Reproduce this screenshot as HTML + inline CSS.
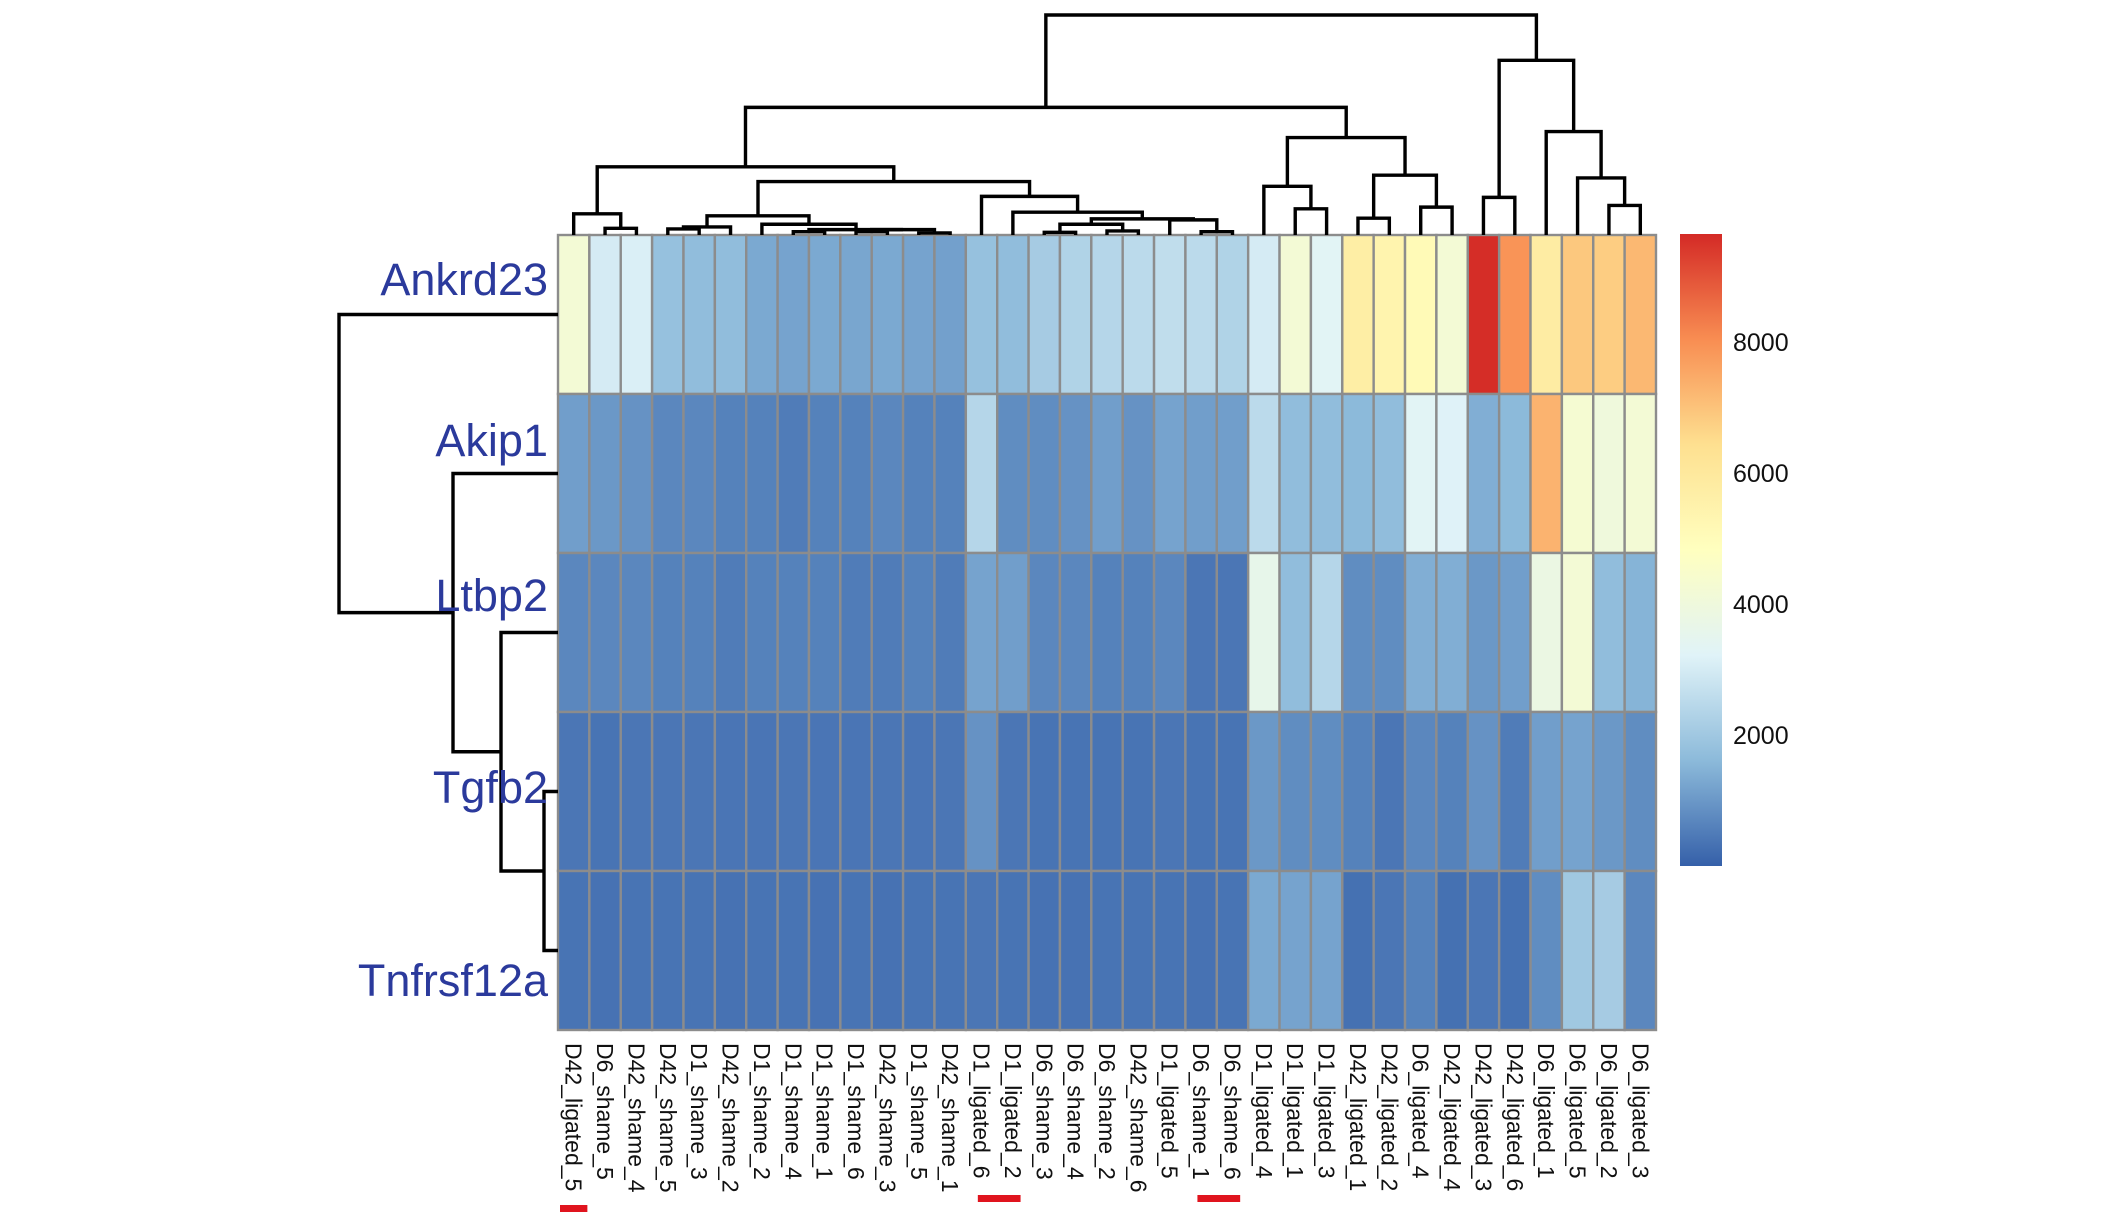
<!DOCTYPE html>
<html><head><meta charset="utf-8"><title>Heatmap</title>
<style>
html,body{margin:0;padding:0;background:#fff;}
svg{display:block;font-family:"Liberation Sans",Arial,sans-serif;}
</style></head>
<body>
<svg id="chart" width="2126" height="1220" viewBox="0 0 2126 1220" xmlns="http://www.w3.org/2000/svg"></svg>
<script>
const genes = ["Ankrd23","Akip1","Ltbp2","Tgfb2","Tnfrsf12a"];
const samples = ["D42_ligated_5","D6_shame_5","D42_shame_4","D42_shame_5","D1_shame_3","D42_shame_2","D1_shame_2","D1_shame_4","D1_shame_1","D1_shame_6","D42_shame_3","D1_shame_5","D42_shame_1","D1_ligated_6","D1_ligated_2","D6_shame_3","D6_shame_4","D6_shame_2","D42_shame_6","D1_ligated_5","D6_shame_1","D6_shame_6","D1_ligated_4","D1_ligated_1","D1_ligated_3","D42_ligated_1","D42_ligated_2","D6_ligated_4","D42_ligated_4","D42_ligated_3","D42_ligated_6","D6_ligated_1","D6_ligated_5","D6_ligated_2","D6_ligated_3"];
const ankrd23 = [4200,3000,3100,1800,1700,1700,1300,1200,1300,1250,1300,1200,1150,1800,1700,2100,2300,2400,2500,2600,2500,2300,3000,4200,3300,5700,5400,5100,4200,9600,7900,5800,6900,6800,7200];
const akip1 = [1100,1000,900,700,700,600,600,500,600,600,700,600,600,2400,800,800,900,1100,900,1200,1100,1100,2500,1700,1700,1600,1700,3300,3200,1400,1600,7300,4300,4000,4200];
const ltbp2 = [700,700,700,600,600,500,600,600,600,500,500,600,500,1200,1100,700,700,600,600,700,400,400,3600,1700,2400,800,800,1400,1400,1000,1100,3800,4200,1700,1500];
const tgfb2 = [400,350,400,400,400,380,380,400,380,380,400,380,400,900,400,350,350,350,350,400,350,350,1000,800,800,600,400,700,600,900,500,1100,1200,1000,800];
const tnfrsf12a = [350,330,350,350,350,330,350,350,330,350,330,350,350,400,350,330,330,350,350,350,330,350,1300,1200,1200,300,400,600,300,400,300,800,2000,2100,700];
const legendTicks = [2000,4000,6000,8000];
const valueMin = 0, valueMax = 9650;
const highlighted = [[0,0],[13,14],[20,21]];
// column dendrogram: [left, right, mergeHeight]
const colTree = [[[[0,[1,2,20],63],[[[[3,4,18],5,24],[6,[[7,8,10],[[9,10,10],[11,12,6],16],16],32],57],[13,[14,[[[15,16,8],[17,18,12],32],[19,[20,21,10],45],48],68],115],159],203],[[22,[23,24,78],145],[[25,26,50],[27,28,83],178],290],380],[[29,30,112],[31,[32,[33,34,88],170],308],520],655];
// row dendrogram: [top, bottom, mergeHeight]
const rowTree = [0,[1,[2,[3,4,14],57],105],219];

const NS="http://www.w3.org/2000/svg";
const svg=document.getElementById('chart');
function mk(tag,attrs,parent){const e=document.createElementNS(NS,tag);for(const k in attrs)e.setAttribute(k,attrs[k]);(parent||svg).appendChild(e);return e;}

const HX0=558,HX1=1656,HY0=235,HY1=1030;
const cw=(HX1-HX0)/samples.length, rh=(HY1-HY0)/genes.length;
const xCol=i=>HX0+cw*i, yRow=r=>HY0+rh*r;
const stops=["#3560A9","#8CBADA","#E0F3F8","#FFFFBF","#FEE090","#F88D52","#D42A26"];
function hex(c){return [1,3,5].map(i=>parseInt(c.substr(i,2),16));}
function color(v){let t=(v-valueMin)/(valueMax-valueMin);t=Math.max(0,Math.min(1,t))*(stops.length-1);const i=Math.min(stops.length-2,Math.floor(t)),f=t-i;const a=hex(stops[i]),b=hex(stops[i+1]);return "rgb("+a.map((x,k)=>Math.round(x+(b[k]-x)*f)).join(",")+")";}

const matrix=[ankrd23,akip1,ltbp2,tgfb2,tnfrsf12a];
const gHeat=mk('g',{});


matrix.forEach((row,r)=>row.forEach((v,c)=>{
  const rc=mk('rect',{x:xCol(c),y:yRow(r),width:cw,height:rh,fill:color(v),stroke:'#8c8c8c','stroke-width':2.4},gHeat);
  
  
}));

// column dendrogram
const gCD=mk('g',{stroke:'#000','stroke-width':3.4,fill:'none'});


const colH=h=>HY0-h*(HY0-15)/655;
function drawCol(n){
  if(typeof n==='number')return {x:xCol(n)+cw/2,y:HY0};
  const a=drawCol(n[0]),b=drawCol(n[1]),y=colH(n[2]);
  mk('path',{d:`M${a.x},${a.y}V${y}H${b.x}V${b.y}`},gCD);
  return {x:(a.x+b.x)/2,y:y};
}
drawCol(colTree);

// row dendrogram
const gRD=mk('g',{stroke:'#000','stroke-width':3.4,fill:'none'});


const rowH=h=>HX0-h*(HX0-339)/219;
function drawRow(n){
  if(typeof n==='number')return {x:HX0,y:yRow(n)+rh/2};
  const a=drawRow(n[0]),b=drawRow(n[1]),x=rowH(n[2]);
  mk('path',{d:`M${a.x},${a.y}H${x}V${b.y}H${b.x}`},gRD);
  return {x:x,y:(a.y+b.y)/2};
}
drawRow(rowTree);

// gene labels
const geneLabelY=[279,440,595,787,980];
genes.forEach((g,i)=>{
  const t=mk('text',{x:548,y:geneLabelY[i]+16,'text-anchor':'end','font-size':45,fill:'#2b3a9c'});
  t.textContent=g;
  
  
});

// sample labels
samples.forEach((s,i)=>{
  const cx=xCol(i)+cw/2-8;
  const t=mk('text',{x:0,y:0,'font-size':23,fill:'#111',transform:`translate(${cx},1043) rotate(90)`});
  t.textContent=s;
  
  
});

// highlight bars
highlighted.forEach((h,k)=>{
  const y = k===0?1205:1195;
  const x0=xCol(h[0])+(k===0?2:12), x1=xCol(h[1])+cw-(k===0?2:8);
  const r=mk('rect',{x:x0,y:y,width:x1-x0,height:7,fill:'#e0141e'});
  
  
});

// legend
const LX=1680,LW=42,LY0=234,LY1=866;
const defs=mk('defs',{});
const grad=mk('linearGradient',{id:'lg',x1:0,y1:1,x2:0,y2:0},defs);
stops.forEach((c,i)=>mk('stop',{offset:(i/(stops.length-1)),'stop-color':c},grad));
const lgBar=mk('rect',{x:LX,y:LY0,width:LW,height:LY1-LY0,fill:'url(#lg)'});


const lgY=v=>LY1-(v-valueMin)/(valueMax-valueMin)*(LY1-LY0);
legendTicks.forEach(v=>{
  const t=mk('text',{x:1733,y:lgY(v)+9,'font-size':25,fill:'#111'});
  t.textContent=String(v);
  
  
});
</script>
</body></html>
